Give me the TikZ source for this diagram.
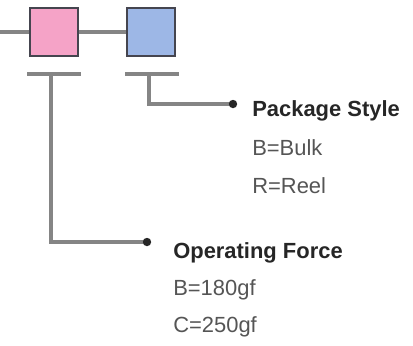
\documentclass[tikz,border=0pt]{standalone}
\usepackage{fontspec}
\setmainfont{Liberation Sans}
\definecolor{pinkcode}{HTML}{F5A3C7}
\definecolor{bluecode}{HTML}{9DB7E6}
\definecolor{leadgray}{HTML}{858585}
\definecolor{boxedge}{HTML}{45454F}
\definecolor{subtext}{HTML}{555555}
\tikzset{
  codebox/.style={draw=boxedge, line width=1.4pt, minimum size=1.2cm, inner sep=0pt},
  lead/.style={leadgray, line width=2.4pt},
  heading/.style={anchor=base west, inner sep=0pt, text=black!85, font=\fontsize{15.6}{18}\selectfont\bfseries},
  option/.style={anchor=base west, inner sep=0pt, text=subtext, font=\fontsize{15.6}{18}\selectfont}
}
\begin{document}
\begin{tikzpicture}[x=0.025cm, y=-0.025cm]
\useasboundingbox (0,0) rectangle (413,345);
% code boxes
\node[codebox, fill=pinkcode] (force) at (54,32) {};
\node[codebox, fill=bluecode] (pack) at (151,32) {};
\coordinate (start) at (0,32);
\draw[lead] (start) -- (force.west);
\draw[lead] (force.east) -- (pack.west);
% bars under the boxes
\coordinate (forcebarL) at (27,74);
\coordinate (forcebarR) at (81,74);
\coordinate (packbarL) at (125,74);
\coordinate (packbarR) at (179,74);
\draw[lead] (forcebarL) -- (forcebarR);
\draw[lead] (packbarL) -- (packbarR);
% leader lines
\coordinate (forcetop) at (51,74);
\coordinate (packtop) at (149,74);
\coordinate (forcedot) at (147,242);
\coordinate (packdot) at (233,104);
\draw[lead] (forcetop) |- (forcedot);
\draw[lead] (packtop) |- (packdot);
\fill[black!85] (forcedot) circle (4.2);
\fill[black!85] (packdot) circle (4.2);
% texts
\node[heading] (packhead) at (252,116) {Package Style};
\node[option] (packB) at (252,155) {B=Bulk};
\node[option] (packR) at (252,193) {R=Reel};
\node[heading] (forcehead) at (173,258) {Operating Force};
\node[option] (forceB) at (173,295) {B=180gf};
\node[option] (forceC) at (173,332) {C=250gf};
\end{tikzpicture}
\end{document}
